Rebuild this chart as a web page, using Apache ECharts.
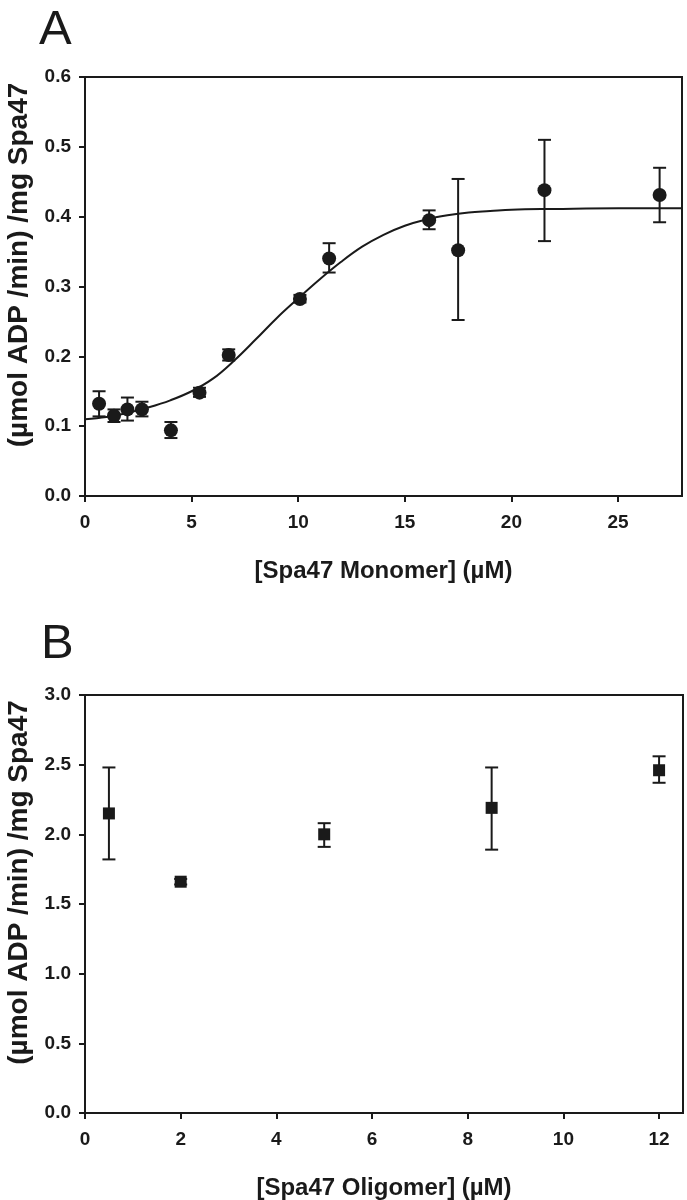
<!DOCTYPE html>
<html><head><meta charset="utf-8">
<script src="https://cdn.jsdelivr.net/npm/echarts@6/dist/echarts.min.js"></script>
<style>html,body{margin:0;padding:0;background:#fff}#c{width:687px;height:1200px}</style>
</head><body><div id="c"></div>
<script>
// Panel A: Spa47 monomer
const monoX  = [0.66, 1.36, 1.99, 2.67, 4.03, 5.37, 6.74, 10.08, 11.45, 16.14, 17.5, 21.55, 26.95];
const monoY  = [0.132, 0.115, 0.124, 0.124, 0.094, 0.148, 0.202, 0.282, 0.340, 0.395, 0.352, 0.438, 0.431];
const monoLo = [0.114, 0.106, 0.108, 0.114, 0.083, 0.142, 0.194, 0.277, 0.320, 0.382, 0.252, 0.365, 0.392];
const monoHi = [0.150, 0.124, 0.141, 0.135, 0.106, 0.155, 0.210, 0.288, 0.362, 0.409, 0.454, 0.510, 0.470];
// fitted curve
const fitX = [0, 1, 2, 3, 4, 5, 6, 7, 8, 9, 10, 11, 12, 13, 14, 15, 16, 17, 18, 19, 20, 22, 25, 28];
const fitY = [0.110, 0.113, 0.119, 0.127, 0.137, 0.150, 0.168, 0.194, 0.224, 0.255, 0.283, 0.310, 0.335, 0.357, 0.374, 0.387, 0.396, 0.402, 0.406, 0.408, 0.410, 0.411, 0.412, 0.412];
// Panel B: Spa47 oligomer
const oligoX  = [0.5, 2, 5, 8.5, 12];
const oligoY  = [2.15, 1.66, 2.0, 2.19, 2.46];
const oligoLo = [1.82, 1.64, 1.91, 1.89, 2.37];
const oligoHi = [2.48, 1.68, 2.08, 2.48, 2.56];
// tick labels
const ticksAX = [0, 5, 10, 15, 20, 25];
const ticksBX = [0, 2, 4, 6, 8, 10, 12];

const yTitle = '(\u00b5mol ADP /min) /mg Spa47';
const xTitleA = '[Spa47 Monomer] (\u00b5M)';
const xTitleB = '[Spa47 Oligomer] (\u00b5M)';

const FONT = '"Liberation Sans", Arial, sans-serif';
const INK = '#1a1a1a';

function errSeries(xi, yi, xs, lo, hi) {
  return {
    type: 'custom', xAxisIndex: xi, yAxisIndex: yi, z: 3,
    data: xs.map((x, i) => [x, lo[i], hi[i]]),
    renderItem: function (params, api) {
      const p1 = api.coord([api.value(0), api.value(1)]);
      const p2 = api.coord([api.value(0), api.value(2)]);
      const w = 6.5;
      const st = { stroke: INK, lineWidth: 2 };
      return { type: 'group', children: [
        { type: 'line', shape: { x1: p1[0], y1: p1[1], x2: p2[0], y2: p2[1] }, style: st },
        { type: 'line', shape: { x1: p1[0] - w, y1: p1[1], x2: p1[0] + w, y2: p1[1] }, style: st },
        { type: 'line', shape: { x1: p2[0] - w, y1: p2[1], x2: p2[0] + w, y2: p2[1] }, style: st }
      ]};
    }
  };
}

function xAx(gi, max, ticks, name) {
  return {
    type: 'value', gridIndex: gi, min: 0, max: max,
    name: name, nameLocation: 'middle', nameGap: 63,
    nameTextStyle: { fontFamily: FONT, fontWeight: 'bold', fontSize: 24, color: INK },
    axisLine: { show: true, lineStyle: { color: INK, width: 2 } },
    axisTick: { show: true, inside: false, length: 6, customValues: ticks, lineStyle: { color: INK, width: 2 } },
    axisLabel: { margin: 17, customValues: ticks, fontFamily: FONT, fontWeight: 'bold', fontSize: 19, color: INK },
    splitLine: { show: false }
  };
}
function yAx(gi, max, interval, dec) {
  return {
    type: 'value', gridIndex: gi, min: 0, max: max, interval: interval,
    name: yTitle, nameLocation: 'middle', nameGap: 52,
    nameTextStyle: { fontFamily: FONT, fontWeight: 'bold', fontSize: 28, color: INK, padding: [0, 0, 0, 43] },
    axisLine: { show: true, lineStyle: { color: INK, width: 2 } },
    axisTick: { show: true, inside: false, length: 6, lineStyle: { color: INK, width: 2 } },
    axisLabel: { margin: 14, fontFamily: FONT, fontWeight: 'bold', fontSize: 19, color: INK,
      formatter: v => v.toFixed(dec) },
    splitLine: { show: false }
  };
}

const chart = echarts.init(document.getElementById('c'), null, { renderer: 'canvas' });
chart.setOption({
  animation: false,
  backgroundColor: '#fff',
  graphic: [
    { type: 'text', left: 39, top: 6, style: { text: 'A', fontFamily: FONT, fontSize: 49, fill: INK } },
    { type: 'text', left: 41, top: 620, style: { text: 'B', fontFamily: FONT, fontSize: 49, fill: INK } }
  ],
  grid: [
    { left: 85, top: 77, width: 597, height: 419, outerBoundsMode: 'none', containLabel: false,
      show: true, borderColor: INK, borderWidth: 2, backgroundColor: 'transparent' },
    { left: 85, top: 695, width: 598, height: 418, outerBoundsMode: 'none', containLabel: false,
      show: true, borderColor: INK, borderWidth: 2, backgroundColor: 'transparent' }
  ],
  xAxis: [ xAx(0, 28, ticksAX, xTitleA), xAx(1, 12.5, ticksBX, xTitleB) ],
  yAxis: [ yAx(0, 0.6, 0.1, 1), yAx(1, 3.0, 0.5, 1) ],
  series: [
    { type: 'line', xAxisIndex: 0, yAxisIndex: 0, smooth: 0.4, showSymbol: false, z: 2,
      data: fitX.map((x, i) => [x, fitY[i]]), lineStyle: { color: INK, width: 2 } },
    errSeries(0, 0, monoX, monoLo, monoHi),
    { type: 'scatter', xAxisIndex: 0, yAxisIndex: 0, symbol: 'circle', symbolSize: 14, z: 4,
      data: monoX.map((x, i) => [x, monoY[i]]), itemStyle: { color: INK, opacity: 1 } },
    errSeries(1, 1, oligoX, oligoLo, oligoHi),
    { type: 'scatter', xAxisIndex: 1, yAxisIndex: 1, symbol: 'rect', symbolSize: 12, z: 4,
      data: oligoX.map((x, i) => [x, oligoY[i]]), itemStyle: { color: INK, opacity: 1 } }
  ]
});
</script></body></html>
